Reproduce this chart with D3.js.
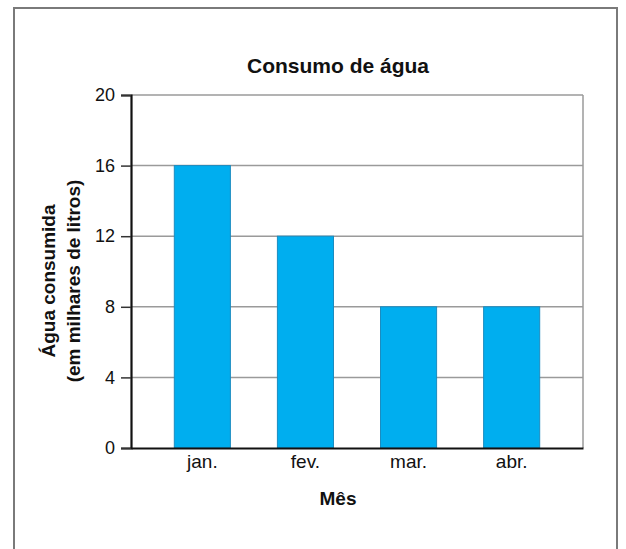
<!DOCTYPE html>
<html>
<head>
<meta charset="utf-8">
<script src="https://cdn.jsdelivr.net/npm/d3@7"></script>
<style>
  body { margin: 0; background: #fff; }
  text { font-family: "Liberation Sans", Arial, sans-serif; fill: #111; }
</style>
</head>
<body>
<div id="viz"></div>
<script>
var months = ['jan.', 'fev.', 'mar.', 'abr.'],
    consumo = [16, 12, 8, 8],
    yTicks = [0, 4, 8, 12, 16, 20];

var width = 626, height = 549,
    plot = {left: 131, right: 583, top: 95, bottom: 448};

var svg = d3.select('#viz')
    .append('svg')
        .attr('width', width)
        .attr('height', height);

// outer frame
svg.append('rect')
    .attr('x', 14).attr('y', 8)
    .attr('width', 603).attr('height', 560)
    .attr('fill', 'none')
    .attr('stroke', '#7a7a7a')
    .attr('stroke-width', 2);

var x = d3.scaleBand()
    .domain(months)
    .range([plot.left, plot.right])
    .paddingInner(0.456)
    .paddingOuter(0.42);

var y = d3.scaleLinear()
    .domain([0, 20])
    .range([plot.bottom, plot.top]);

// gridlines
svg.append('g')
    .selectAll('line')
    .data(yTicks.slice(1))
    .enter().append('line')
        .attr('x1', plot.left).attr('x2', plot.right)
        .attr('y1', function (d) { return y(d); })
        .attr('y2', function (d) { return y(d); })
        .attr('stroke', '#9a9a9a')
        .attr('stroke-width', 1.5);

// right border of plot
svg.append('line')
    .attr('x1', plot.right).attr('x2', plot.right)
    .attr('y1', plot.top).attr('y2', plot.bottom)
    .attr('stroke', '#9a9a9a')
    .attr('stroke-width', 1.5);

// bars
svg.append('g')
    .selectAll('rect')
    .data(consumo)
    .enter().append('rect')
        .attr('x', function (d, i) { return x(months[i]); })
        .attr('y', function (d) { return y(d); })
        .attr('width', x.bandwidth())
        .attr('height', function (d) { return y(0) - y(d); })
        .attr('fill', '#00aeef')
        .attr('stroke', '#1b8cc0')
        .attr('stroke-width', 1);

// y axis
var yAxis = svg.append('g')
    .attr('transform', 'translate(' + plot.left + ',0)')
    .call(d3.axisLeft(y).tickValues(yTicks).tickSize(10).tickPadding(6));
yAxis.select('.domain').attr('stroke', '#111').attr('stroke-width', 2.2);
yAxis.selectAll('.tick line').attr('stroke', '#333').attr('stroke-width', 1.5);
yAxis.selectAll('.tick text')
    .style('font-family', '"Liberation Sans", Arial, sans-serif')
    .style('font-size', '18px')
    .attr('fill', '#111');

// x axis
var xAxis = svg.append('g')
    .attr('transform', 'translate(0,' + plot.bottom + ')')
    .call(d3.axisBottom(x).tickSize(0).tickPadding(7));
xAxis.select('.domain').attr('stroke', '#111').attr('stroke-width', 2.2);
xAxis.selectAll('.tick text')
    .style('font-family', '"Liberation Sans", Arial, sans-serif')
    .style('font-size', '19px')
    .attr('fill', '#111');

// title and axis labels
svg.append('text')
    .attr('x', 338).attr('y', 73)
    .attr('text-anchor', 'middle')
    .style('font-size', '21px')
    .style('font-weight', 'bold')
    .text('Consumo de água');

svg.append('text')
    .attr('x', 338).attr('y', 505)
    .attr('text-anchor', 'middle')
    .style('font-size', '19px')
    .style('font-weight', 'bold')
    .text('Mês');

var yLabel = svg.append('text')
    .attr('transform', 'translate(55,281) rotate(-90)')
    .attr('text-anchor', 'middle')
    .style('font-size', '19px')
    .style('font-weight', 'bold');
yLabel.append('tspan').attr('x', 0).attr('y', 0).text('Água consumida');
yLabel.append('tspan').attr('x', 0).attr('y', 25).text('(em milhares de litros)');
</script>
</body>
</html>
